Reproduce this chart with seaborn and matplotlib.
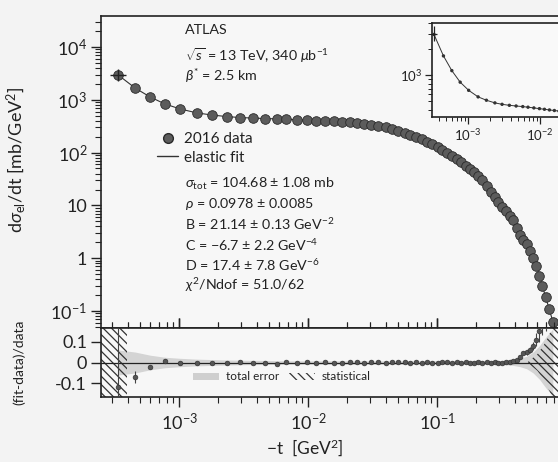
import numpy as np
import pandas as pd
import matplotlib
matplotlib.use("Agg")
import matplotlib.pyplot as plt
import seaborn as sns
from matplotlib.lines import Line2D
from matplotlib.patches import Patch
from matplotlib.ticker import FixedLocator, FixedFormatter, LogLocator, NullFormatter

# ---------------- data ----------------
t_vals = [3.37e-4, 4.56e-4, 5.96e-4, 7.78e-4, 1.02e-3, 1.38e-3, 1.80e-3, 2.36e-3,
          2.97e-3, 3.75e-3, 4.65e-3, 5.75e-3,
          0.0068, 0.0082, 0.0098, 0.0115, 0.0135, 0.0158, 0.0183, 0.021, 0.024, 0.027,
          0.031, 0.035, 0.040, 0.045, 0.050, 0.056, 0.062, 0.069, 0.076, 0.084,
          0.092, 0.101, 0.110, 0.120, 0.131, 0.142, 0.154, 0.167, 0.180, 0.194,
          0.209, 0.225, 0.242, 0.260, 0.279, 0.299, 0.320, 0.342, 0.365, 0.389,
          0.414, 0.440, 0.467, 0.495, 0.525, 0.556, 0.588, 0.622, 0.657, 0.695,
          0.74, 0.79]
dsig_vals = [2950, 1670, 1130, 832, 670, 563, 515, 480, 462, 450, 442, 435,
             428, 420, 412, 405, 398, 392, 386, 380, 368, 355,
             339, 323, 300, 279, 261, 239, 219, 200, 182, 161,
             144, 129, 114, 99, 86, 75, 65, 55.5, 48.3, 42,
             36.2, 29.7, 23, 18.3, 14.5, 11.5, 9.3, 7.7, 6.4, 5.3,
             3.8, 2.8, 2.25, 1.82, 1.35, 1.0, 0.72, 0.47, 0.295, 0.182,
             0.11, 0.063]
resid_vals = [-0.117, -0.07, -0.02, 0.007, -0.003, -0.002, 0.0, -0.003, 0.001, -0.004, -0.002, -0.005,
              0.002, -0.003, 0.001, -0.002, 0.003, -0.001, -0.004, 0.002, 0.004, -0.002,
              0.001, 0.003, -0.002, 0.002, 0.004, 0.001, -0.003, 0.002, -0.001, 0.003,
              0.0, -0.002, 0.002, 0.001, -0.003, 0.002, -0.002, 0.001, -0.004, 0.0,
              0.002, -0.003, 0.001, -0.002, 0.003, 0.0, -0.002, 0.002, 0.004, 0.006,
              0.01, 0.027, 0.045, 0.05, 0.06, 0.08, 0.11, 0.15, 0.2, 0.25,
              0.3, 0.35]
resid_err = [0.3, 0.03, 0.01, 0.008, 0.005, 0.004, 0.004, 0.004, 0.004, 0.004, 0.004, 0.004,
             0.004, 0.004, 0.004, 0.004, 0.004, 0.004, 0.004, 0.004, 0.004, 0.004,
             0.004, 0.004, 0.004, 0.004, 0.004, 0.004, 0.004, 0.004, 0.004, 0.004,
             0.004, 0.004, 0.004, 0.004, 0.004, 0.004, 0.004, 0.004, 0.004, 0.004,
             0.004, 0.004, 0.004, 0.004, 0.004, 0.004, 0.005, 0.005, 0.005, 0.006,
             0.007, 0.008, 0.01, 0.012, 0.015, 0.02, 0.03, 0.05, 0.07, 0.1,
             0.13, 0.16]
tot_err = [0.06, 0.05, 0.035, 0.025, 0.02, 0.016, 0.014, 0.012, 0.011, 0.01, 0.01, 0.009,
           0.008, 0.008, 0.008, 0.008, 0.008, 0.008, 0.008, 0.008, 0.008, 0.008,
           0.008, 0.008, 0.008, 0.008, 0.008, 0.008, 0.008, 0.008, 0.008, 0.008,
           0.008, 0.008, 0.008, 0.008, 0.008, 0.008, 0.008, 0.008, 0.008, 0.008,
           0.008, 0.008, 0.008, 0.008, 0.008, 0.009, 0.010, 0.011, 0.012, 0.014,
           0.017, 0.02, 0.025, 0.03, 0.04, 0.05, 0.065, 0.08, 0.1, 0.12,
           0.14, 0.16]
stat_left_t = [2.4e-4, 3.95e-4]
stat_left_hw = [0.4, 0.4]
stat_right_t = [0.5, 0.6, 0.7, 0.8, 0.95]
stat_right_hw = [0.0, 0.04, 0.1, 0.18, 0.3]

y_ticks = [1e-1, 1, 10, 1e2, 1e3, 1e4]
y_ticklabels = [r"10$^{-1}$", "1", "10", r"10$^{2}$", r"10$^{3}$", r"10$^{4}$"]
x_ticks = [1e-3, 1e-2, 1e-1]
x_ticklabels = [r"10$^{-3}$", r"10$^{-2}$", r"10$^{-1}$"]
r_ticks = [-0.1, 0.0, 0.1]
r_ticklabels = ["-0.1", "0", "0.1"]

info_lines = [r"$\sigma_{\rm tot}$ = 104.68 $\pm$ 1.08 mb",
              r"$\rho$ = 0.0978 $\pm$ 0.0085",
              r"B = 21.14 $\pm$ 0.13 GeV$^{-2}$",
              r"C = $-$6.7 $\pm$ 2.2 GeV$^{-4}$",
              r"D = 17.4 $\pm$ 7.8 GeV$^{-6}$",
              r"$\chi^{2}$/Ndof = 51.0/62"]

df = pd.DataFrame({"t": t_vals, "dsig": dsig_vals, "resid": resid_vals,
                   "rerr": resid_err, "tot": tot_err})

# ---------------- style ----------------
sns.set_theme(style="ticks")
plt.rcParams["font.family"] = ["Lato", "DejaVu Sans"]
plt.rcParams["mathtext.fontset"] = "custom"
plt.rcParams["mathtext.rm"] = "Lato"
plt.rcParams["mathtext.it"] = "Lato:italic"
plt.rcParams["mathtext.bf"] = "Lato:bold"
plt.rcParams["hatch.linewidth"] = 0.9
plt.rcParams["axes.linewidth"] = 1.2

W, H = 558, 462
fig = plt.figure(figsize=(W / 100, H / 100), dpi=100, facecolor="#f3f3f3")

def px_axes(x0, y0, x1, y1):
    return fig.add_axes([x0 / W, 1 - y1 / H, (x1 - x0) / W, (y1 - y0) / H])

ax = px_axes(101, 16, 560, 328)
axr = px_axes(101, 328, 560, 397)
axi = px_axes(432, 23, 566, 117)

xlim = (2.48e-4, 0.898)
ink = "#222222"
for a in (ax, axr, axi):
    a.set_facecolor("#f7f7f7")
    for s in a.spines.values():
        s.set_color(ink)
axi.set_facecolor("#f9f9f9")

# ---------------- main panel ----------------
sns.lineplot(data=df, x="t", y="dsig", ax=ax, color="#333333", lw=0.8, zorder=2)
sns.scatterplot(data=df, x="t", y="dsig", ax=ax, s=48, color="#5c5c5c",
                edgecolor="#2a2a2a", linewidth=0.6, zorder=3, legend=False)
ax.errorbar(df["t"][:1], df["dsig"][:1], xerr=[[0.45e-4], [0.5e-4]],
            yerr=[[700], [900]], fmt="none", ecolor=ink, elinewidth=1.0, zorder=4)
ax.set_xscale("log")
ax.set_yscale("log")
ax.set_xlim(*xlim)
ax.set_ylim(10 ** -1.322, 10 ** 4.587)
ax.yaxis.set_major_locator(FixedLocator(y_ticks))
ax.yaxis.set_major_formatter(FixedFormatter(y_ticklabels))
ax.yaxis.set_minor_locator(LogLocator(base=10, subs=np.arange(2, 10)))
ax.yaxis.set_minor_formatter(NullFormatter())
ax.xaxis.set_major_locator(FixedLocator(x_ticks))
ax.xaxis.set_minor_locator(LogLocator(base=10, subs=np.arange(2, 10)))
ax.tick_params(axis="y", which="major", direction="out", length=7, width=1.0,
               labelsize=13, colors=ink, pad=3)
ax.tick_params(axis="y", which="minor", direction="out", length=4, width=0.8, colors=ink)
ax.tick_params(axis="x", which="major", direction="in", length=7, width=1.0,
               labelbottom=False, colors=ink)
ax.tick_params(axis="x", which="minor", direction="in", length=4, width=0.8, colors=ink)
ax.set_xlabel("")
ax.set_ylabel(r"d$\sigma_{\rm el}$/dt [mb/GeV$^{2}$]", fontsize=13, color=ink)
ax.yaxis.set_label_coords(-0.160, 0.54)

def ax_frac(xp, yp):
    return ((xp - 101) / 459, 1 - (yp - 16) / 312)

txt_kw = dict(transform=ax.transAxes, fontsize=10.3, color=ink, va="center", ha="left")
ax.text(*ax_frac(185, 30), "ATLAS", **txt_kw)
ax.text(*ax_frac(185, 56), r"$\sqrt{s}$ = 13 TeV, 340 $\mu$b$^{-1}$", **txt_kw)
ax.text(*ax_frac(185, 76), r"$\beta^{*}$ = 2.5 km", **txt_kw)
for i, line in enumerate(info_lines):
    ax.text(*ax_frac(185, 184 + 20.2 * i), line, **txt_kw)

handles = [Line2D([], [], marker="o", ls="none", ms=7, mfc="#5c5c5c", mec="#2a2a2a"),
           Line2D([], [], color="#333333", lw=1.0)]
ax.legend(handles, ["2016 data", "elastic fit"], loc="upper left",
          bbox_to_anchor=ax_frac(157, 132), frameon=False, fontsize=11,
          handlelength=1.4, handletextpad=0.35, labelspacing=0.3, borderaxespad=0,
          borderpad=0, labelcolor=ink)

# ---------------- ratio panel ----------------
axr.fill_between(df["t"], -df["tot"], df["tot"], color="#d4d4d4", lw=0, zorder=1)
axr.fill_between(stat_left_t, [-v for v in stat_left_hw], stat_left_hw,
                 facecolor="none", edgecolor="#333333", hatch="\\\\\\\\", lw=0, zorder=2)
axr.fill_between(stat_right_t, [-v for v in stat_right_hw], stat_right_hw,
                 facecolor="none", edgecolor="#333333", hatch="\\\\\\\\", lw=0, zorder=2)
axr.axhline(0, color=ink, lw=0.9, zorder=3)
axr.errorbar(df["t"], df["resid"], yerr=df["rerr"], fmt="none", ecolor="#444444",
             elinewidth=0.8, zorder=4)
sns.scatterplot(data=df, x="t", y="resid", ax=axr, s=12, color="#555555",
                edgecolor="#2a2a2a", linewidth=0.4, zorder=5, legend=False)
axr.set_xscale("log")
axr.set_xlim(*xlim)
axr.set_ylim(-0.165, 0.165)
axr.xaxis.set_major_locator(FixedLocator(x_ticks))
axr.xaxis.set_major_formatter(FixedFormatter(x_ticklabels))
axr.xaxis.set_minor_locator(LogLocator(base=10, subs=np.arange(2, 10)))
axr.xaxis.set_minor_formatter(NullFormatter())
axr.yaxis.set_major_locator(FixedLocator(r_ticks))
axr.yaxis.set_major_formatter(FixedFormatter(r_ticklabels))
axr.tick_params(axis="x", which="major", direction="out", length=7, width=1.0,
                top=True, labelsize=13, colors=ink, pad=4)
axr.tick_params(axis="x", which="minor", direction="out", length=4, width=0.8,
                top=True, colors=ink)
axr.tick_params(axis="y", which="major", direction="out", length=7, width=1.0,
                labelsize=13, colors=ink, pad=3)
axr.set_ylabel("(fit-data)/data", fontsize=10, color=ink)
axr.yaxis.set_label_coords(-0.165, 0.5)
axr.set_xlabel(r"$-$t  [GeV$^{2}$]", fontsize=12.5, color=ink)
axr.xaxis.set_label_coords(0.444, -0.58)
lh = [Patch(facecolor="#cfcfcf", edgecolor="none"),
      Patch(facecolor="none", edgecolor="#333333", hatch="\\\\\\\\", lw=0)]
axr.legend(lh, ["total error", "statistical"], loc="center", ncol=2,
           bbox_to_anchor=((282 - 101) / 459, (397 - 377) / 69), frameon=False,
           fontsize=8.5, handlelength=2.2, handleheight=0.6, handletextpad=0.6,
           columnspacing=0.8, borderpad=0, labelcolor=ink)

# ---------------- inset ----------------
dfi = df[df["t"] < 0.03]
sns.lineplot(data=dfi, x="t", y="dsig", ax=axi, color="#333333", lw=0.7, zorder=2)
sns.scatterplot(data=dfi, x="t", y="dsig", ax=axi, s=6, color="#333333",
                edgecolor="none", zorder=3, legend=False)
axi.errorbar(dfi["t"][:1], dfi["dsig"][:1], xerr=[[0.3e-4], [0.4e-4]],
             yerr=[[500], [700]], fmt="none", ecolor=ink, elinewidth=0.9, zorder=4)
axi.set_xscale("log")
axi.set_yscale("log")
axi.set_xlim(10 ** -3.5, 10 ** -1.64)
axi.set_ylim(330, 4000)
axi.xaxis.set_major_locator(FixedLocator([1e-3, 1e-2]))
axi.xaxis.set_major_formatter(FixedFormatter([r"10$^{-3}$", r"10$^{-2}$"]))
axi.xaxis.set_minor_locator(LogLocator(base=10, subs=np.arange(2, 10)))
axi.xaxis.set_minor_formatter(NullFormatter())
axi.yaxis.set_major_locator(FixedLocator([1e3]))
axi.yaxis.set_major_formatter(FixedFormatter([r"10$^{3}$"]))
axi.yaxis.set_minor_locator(LogLocator(base=10, subs=np.arange(2, 10)))
axi.yaxis.set_minor_formatter(NullFormatter())
axi.tick_params(which="major", direction="out", length=5, width=0.9, labelsize=9.5,
                colors=ink, pad=2)
axi.tick_params(which="minor", direction="out", length=3, width=0.7, colors=ink)
axi.set_xlabel("")
axi.set_ylabel("")

fig.savefig("out.png", dpi=100, facecolor=fig.get_facecolor())
